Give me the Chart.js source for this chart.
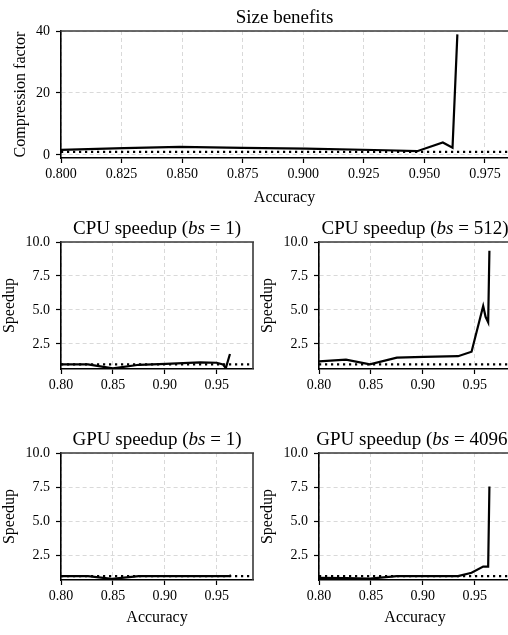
<!DOCTYPE html>
<html><head><meta charset="utf-8">
<script src="https://cdn.jsdelivr.net/npm/chart.js@4.4.1/dist/chart.umd.min.js"></script>
<style>
html,body{margin:0;padding:0;background:#fff;overflow:hidden;width:508px;height:635px;position:relative;}
canvas.p{position:absolute;}
</style></head><body>
<script>
// ---------- data ----------
const baseline = 1;

const accSize    = [0.800, 0.826, 0.849, 0.875, 0.901, 0.934, 0.947, 0.9576, 0.9616, 0.9636];
const sizeFactor = [1.6,   2.2,   2.6,   2.3,   2.0,   1.5,   1.2,   4.0,    2.3,    38.9];

const accCpu1    = [0.800, 0.826, 0.850, 0.875, 0.901, 0.934, 0.950, 0.956, 0.9588, 0.9628];
const cpuSpeed1  = [1.0,   1.0,   0.70,  0.97,  1.03,  1.15,  1.12,  1.0,   0.72,   1.76];

const accCpu512  = [0.800, 0.826, 0.849, 0.875, 0.901, 0.934, 0.947, 0.9582, 0.9605, 0.9630, 0.9642];
const cpuSpeed512= [1.22,  1.35,  1.0,   1.5,   1.55,  1.6,   1.93,  5.3,    4.5,    4.1,    9.36];

const accGpu1    = [0.800, 0.826, 0.849, 0.875, 0.901, 0.934, 0.947, 0.958, 0.9618, 0.9638];
const gpuSpeed1  = [1.0,   1.0,   0.80,  1.0,   1.0,   1.0,   1.0,   1.0,   1.0,    1.07];

const accGpu4096 = [0.800, 0.826, 0.849, 0.875, 0.901, 0.934, 0.947, 0.9582, 0.9630, 0.9642];
const gpuSpeed4096=[0.87,  0.85,  0.82,  1.0,   1.0,   1.0,   1.25,  1.7,    1.7,    7.55];

// tick values / labels
const xTicksTop   = [0.800, 0.825, 0.850, 0.875, 0.900, 0.925, 0.950, 0.975];
const xTicksSmall = [0.80, 0.85, 0.90, 0.95];
const yTicksSize  = [0, 20, 40];
const yTicksSpeed = [2.5, 5.0, 7.5, 10.0];

// titles: [normal, italic, normal, ...]
const titleSize    = ['Size benefits'];
const titleCpu1    = ['CPU speedup (', 'bs', ' = 1)'];
const titleCpu512  = ['CPU speedup (', 'bs', ' = 512)'];
const titleGpu1    = ['GPU speedup (', 'bs', ' = 1)'];
const titleGpu4096 = ['GPU speedup (', 'bs', ' = 4096)'];

const xLabel = 'Accuracy';
const yLabelSize = 'Compression factor';
const yLabelSpeed = 'Speedup';

// ---------- rendering ----------
const FONT = 'Liberation Serif';
Chart.defaults.font.family = FONT;
Chart.defaults.color = '#000';

const framePlugin = {
  id: 'frame',
  afterDraw(chart, args, o) {
    const ctx = chart.ctx, a = chart.chartArea;
    ctx.save();
    ctx.strokeStyle = '#3a3a3a';
    ctx.lineWidth = 1.6;
    ctx.beginPath();
    ctx.moveTo(a.left - 0.8, a.top); ctx.lineTo(a.right + 1, a.top);
    if (o.right) { ctx.moveTo(a.right, a.top); ctx.lineTo(a.right, a.bottom); }
    ctx.stroke();
    ctx.restore();
  }
};

const titlePlugin = {
  id: 'segTitle',
  afterDraw(chart, args, o) {
    const ctx = chart.ctx, a = chart.chartArea;
    ctx.save();
    ctx.fillStyle = '#000';
    ctx.textBaseline = 'alphabetic';
    ctx.textAlign = 'left';
    const fonts = o.parts.map((t, i) => (i % 2 ? 'italic ' : '') + '19px "' + FONT + '"');
    const ws = o.parts.map((t, i) => { ctx.font = fonts[i]; return ctx.measureText(t).width; });
    const total = ws.reduce((s, w) => s + w, 0);
    let x = (a.left + a.right) / 2 - total / 2;
    const y = a.top - 8;
    o.parts.forEach((t, i) => { ctx.font = fonts[i]; ctx.fillText(t, x, y); x += ws[i]; });
    ctx.restore();
  }
};

function panel(p) {
  const c = document.createElement('canvas');
  c.className = 'p';
  c.style.left = p.left + 'px'; c.style.top = p.top + 'px';
  c.style.width = p.w + 'px'; c.style.height = p.h + 'px';
  c.width = p.w; c.height = p.h;
  document.body.appendChild(c);
  const gridCommon = { color: '#d9d9d9', lineWidth: 1, tickLength: 5, tickColor: '#000', tickWidth: 1.2 };
  const borderCommon = { display: true, color: '#000', width: 1.6, dash: [4, 3] };
  new Chart(c, {
    type: 'line',
    data: { datasets: [
      { data: p.xs.map((x, i) => ({ x: x, y: p.ys[i] })), borderColor: '#000', borderWidth: 2.2,
        pointRadius: 0, tension: 0, fill: false, order: 0, borderJoinStyle: 'miter' },
      { data: [{ x: p.xmin, y: baseline }, { x: p.xmax, y: baseline }], borderColor: '#000', borderWidth: 2.3,
        borderDash: [2.2, 3.8], pointRadius: 0, fill: false, order: 1 }
    ] },
    options: {
      responsive: false, animation: false,
      layout: { padding: { top: p.padTop, right: p.padRight, bottom: 0, left: 0 } },
      plugins: { legend: { display: false }, tooltip: { enabled: false },
        frame: { right: p.rightSpine }, segTitle: { parts: p.title } },
      scales: {
        x: { type: 'linear', min: p.xmin, max: p.xmax,
          afterFit: s => { s.height = p.xAxisH; },
          afterBuildTicks: s => { s.ticks = p.xticks.map(v => ({ value: v })); },
          ticks: { callback: v => Number(v).toFixed(p.xdec), autoSkip: false, maxRotation: 0, padding: 3,
            font: { size: 14 }, color: '#000' },
          grid: gridCommon, border: borderCommon,
          title: { display: !!p.xlabel, text: p.xlabel || '', font: { size: 16, lineHeight: 1 }, color: '#000',
            padding: { top: 0, bottom: 9 } } },
        y: { type: 'linear', min: p.ymin, max: p.ymax,
          afterFit: s => { s.width = p.yAxisW; },
          afterBuildTicks: s => { s.ticks = p.yticks.map(v => ({ value: v })); },
          ticks: { callback: v => Number(v).toFixed(p.ydec), autoSkip: false, padding: 6,
            font: { size: 14 }, color: '#000' },
          grid: gridCommon, border: borderCommon,
          title: { display: true, text: p.ylabel, font: { size: 16, lineHeight: 1 }, color: '#000',
            padding: { top: p.yTitlePad, bottom: 0 } } }
      }
    },
    plugins: [framePlugin, titlePlugin]
  });
}

// top panel
panel({ left: 0, top: 0, w: 508, h: 215, padTop: 31, padRight: 0, xAxisH: 57, yAxisW: 61,
  xs: accSize, ys: sizeFactor, xmin: 0.8, xmax: 0.9845, ymin: -1, ymax: 40,
  xticks: xTicksTop, xdec: 3, yticks: yTicksSize, ydec: 0,
  title: titleSize, xlabel: xLabel, ylabel: yLabelSize, yTitlePad: 13, rightSpine: false });

// CPU row
panel({ left: 0, top: 215, w: 256, h: 197, padTop: 27, padRight: 3, xAxisH: 43, yAxisW: 61,
  xs: accCpu1, ys: cpuSpeed1, xmin: 0.8, xmax: 0.985, ymin: 0.66, ymax: 10,
  xticks: xTicksSmall, xdec: 2, yticks: yTicksSpeed, ydec: 1,
  title: titleCpu1, xlabel: '', ylabel: yLabelSpeed, yTitlePad: 2, rightSpine: true });
panel({ left: 256, top: 215, w: 256, h: 197, padTop: 27, padRight: 1, xAxisH: 43, yAxisW: 63,
  xs: accCpu512, ys: cpuSpeed512, xmin: 0.8, xmax: 0.985, ymin: 0.66, ymax: 10,
  xticks: xTicksSmall, xdec: 2, yticks: yTicksSpeed, ydec: 1,
  title: titleCpu512, xlabel: '', ylabel: yLabelSpeed, yTitlePad: 4, rightSpine: true });

// GPU row
panel({ left: 0, top: 412, w: 256, h: 223, padTop: 41, padRight: 3, xAxisH: 55, yAxisW: 61,
  xs: accGpu1, ys: gpuSpeed1, xmin: 0.8, xmax: 0.985, ymin: 0.72, ymax: 10,
  xticks: xTicksSmall, xdec: 2, yticks: yTicksSpeed, ydec: 1,
  title: titleGpu1, xlabel: xLabel, ylabel: yLabelSpeed, yTitlePad: 2, rightSpine: true });
panel({ left: 256, top: 412, w: 256, h: 223, padTop: 41, padRight: 1, xAxisH: 55, yAxisW: 63,
  xs: accGpu4096, ys: gpuSpeed4096, xmin: 0.8, xmax: 0.985, ymin: 0.72, ymax: 10,
  xticks: xTicksSmall, xdec: 2, yticks: yTicksSpeed, ydec: 1,
  title: titleGpu4096, xlabel: xLabel, ylabel: yLabelSpeed, yTitlePad: 4, rightSpine: true });
</script>
</body></html>
